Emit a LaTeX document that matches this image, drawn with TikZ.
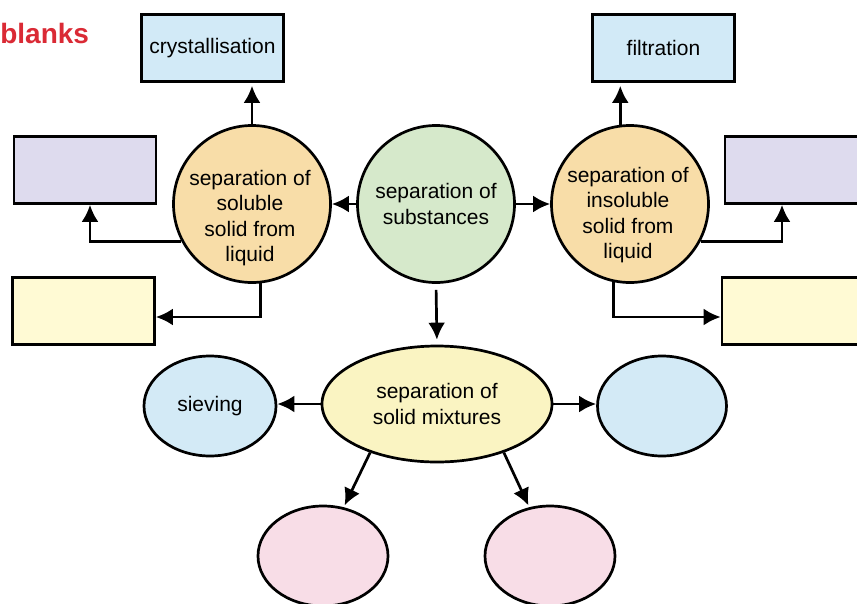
\documentclass[tikz,border=0pt]{standalone}
\usepackage{fontspec}
\setmainfont{Liberation Sans}
\usepackage{tikz}
\usetikzlibrary{arrows.meta,shapes.geometric,positioning}
\definecolor{boxblue}{HTML}{D2EAF7}
\definecolor{boxpurple}{HTML}{DEDBEE}
\definecolor{boxyellow}{HTML}{FFFAD4}
\definecolor{circorange}{HTML}{F8DDA8}
\definecolor{circgreen}{HTML}{D6E9CB}
\definecolor{ellyellow}{HTML}{FAF4C2}
\definecolor{ellblue}{HTML}{D3EAF6}
\definecolor{ellpink}{HTML}{F8DDE7}
\definecolor{blankred}{HTML}{DA2A35}
\tikzset{
    arr/.style={-{Latex[length=17pt,width=17pt]}},
    labeltxt/.style={font=\fontsize{21}{25.5}\selectfont, align=center, inner sep=0pt},
    blankbox/.style={draw=black, rectangle, minimum width=142pt, minimum height=67pt, inner sep=0pt, labeltxt},
    bigcirc/.style={draw=black, circle, minimum size=157pt, inner sep=0pt},
    oval/.style={draw=black, ellipse, inner sep=0pt, labeltxt}
}

\begin{document}
\begin{tikzpicture}[x=1pt,y=-1pt,line width=2.7pt]
                    \useasboundingbox (0,0) rectangle (857,603);
                    \node[anchor=base west, inner sep=0pt, text=blankred, font=\bfseries\fontsize{28}{30}\selectfont] (title) at (-1,43) {blanks};
                    % top row
                    \node[blankbox, fill=boxblue] (cryst) at (212.5,48) {crystallisation};
                    \node[blankbox, fill=boxblue] (filt) at (663.5,48) {filtration};
                    \node[blankbox, fill=boxpurple] (lpur) at (85,170) {};
                    \node[blankbox, fill=boxyellow] (lyel) at (83.5,311) {};
                    \node[blankbox, fill=boxpurple] (rpur) at (796,170) {};
                    \node[blankbox, fill=boxyellow] (ryel) at (793,311) {};
                    % circles
                    \node[bigcirc, fill=circorange] (sol) at (252,204) {};
                    \node[labeltxt] (soltxt) at (250,218) {separation of\\soluble\\solid from\\liquid};
                    \node[bigcirc, fill=circgreen] (subs) at (436,204) {};
                    \node[labeltxt] (substxt) at (436,204) {separation of\\substances};
                    \node[bigcirc, fill=circorange] (insol) at (630,204) {};
                    \node[labeltxt] (insoltxt) at (628,215) {separation of\\insoluble\\solid from\\liquid};
                    % ovals
                    \node[oval, fill=ellyellow, minimum width=230pt, minimum height=116pt] (ymix) at (437,404) {separation of\\solid mixtures};
                    \node[oval, fill=ellblue, minimum width=132pt, minimum height=100pt] (sieve) at (210,406) {sieving};
                    \node[oval, fill=ellblue, minimum width=129pt, minimum height=100pt] (rblue) at (662,406) {};
                    \node[oval, fill=ellpink, minimum width=130pt, minimum height=100pt] (lpink) at (323,556) {};
                    \node[oval, fill=ellpink, minimum width=130pt, minimum height=100pt] (rpink) at (550,556) {};
                    % arrows
                    \draw[arr, shorten >=3pt] (sol.north) -- (sol.north |- cryst.south);
                    \draw[arr, shorten >=3pt] (insol.97) -- (insol.97 |- filt.south);
                    \draw[arr] (subs.west) -- (sol.east);
                    \draw[arr] (subs.east) -- (insol.west);
                    \draw[arr] (sol.208) -| ([xshift=5pt]lpur.south);
                    \draw[arr] (sol.-84) |- ([yshift=-6pt]lyel.east);
                    \draw[arr] (insol.-28) -| ([xshift=-14pt]rpur.south);
                    \draw[arr] (insol.-102) |- ([yshift=-6pt]ryel.west);
                    \draw[arr, shorten <=6pt, shorten >=5pt] (subs.south) -- (ymix.north);
                    \draw[arr] (ymix.west) -- (ymix.west -| sieve.east);
                    \draw[arr] (ymix.east) -- (ymix.east -| rblue.west);
                    \draw[arr, shorten >=2pt] (ymix.-144) -- (lpink.67);
                    \draw[arr, shorten >=2pt] (ymix.-36) -- (rpink.113);
                \end{tikzpicture}
\end{document}
